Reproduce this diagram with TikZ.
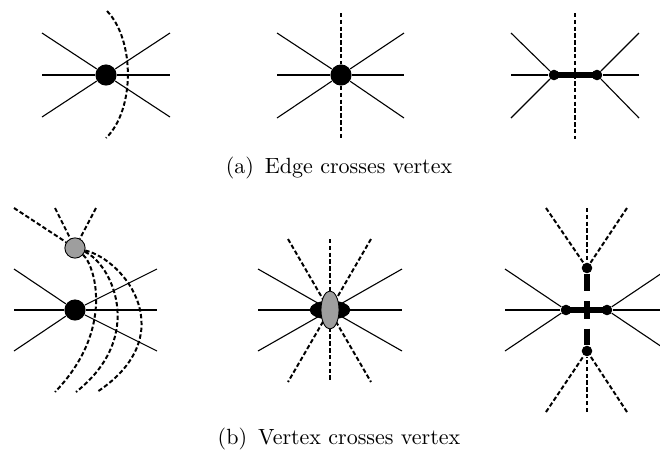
\documentclass[tikz,border=0pt]{standalone}
\usepackage{tikz}
\usetikzlibrary{shapes.geometric}
\definecolor{VertexGray}{RGB}{158,158,158}

\begin{document}
\begin{tikzpicture}[x=0.4545pt,y=-0.4545pt,
    vtx/.style={circle, fill, inner sep=0pt, minimum size=9.6pt},
    smallvtx/.style={circle, fill, inner sep=0pt, minimum size=4.8pt},
    grayvtx/.style={circle, draw, line width=0.4pt, fill=VertexGray, inner sep=0pt, minimum size=9.2pt},
    edge/.style={line width=0.5pt},
    crossing/.style={line width=0.9pt, dash pattern=on 2pt off 1.1pt},
    contracted/.style={line width=2.4pt},
    bigdash/.style={line width=2.3pt, dash pattern=on 8pt off 4.5pt}]
        \useasboundingbox (0,0) rectangle (660,449);
        \clip (0,0) rectangle (660,449);
        % (a) edge crosses vertex
        \node[vtx] (a1) at (106,75) {};
        \coordinate (a1nw) at (42,33); \coordinate (a1w) at (42,75); \coordinate (a1sw) at (42,117);
        \coordinate (a1ne) at (170,33); \coordinate (a1e) at (170,75); \coordinate (a1se) at (170,117);
        \coordinate (a1t) at (107,11); \coordinate (a1b) at (106,138);
        \draw[edge] (a1nw) -- (a1) -- (a1se);
        \draw[edge] (a1w) -- (a1) -- (a1e);
        \draw[edge] (a1sw) -- (a1) -- (a1ne);
        \draw[crossing] (a1t) .. controls (135,40) and (135,110) .. (a1b);

        \node[vtx] (a2) at (341,75) {};
        \coordinate (a2nw) at (277,33); \coordinate (a2w) at (277,75); \coordinate (a2sw) at (277,118);
        \coordinate (a2ne) at (404,33); \coordinate (a2e) at (404,75); \coordinate (a2se) at (404,118);
        \coordinate (a2t) at (341,13); \coordinate (a2b) at (341,139);
        \draw[edge] (a2nw) -- (a2) -- (a2se);
        \draw[edge] (a2w) -- (a2) -- (a2e);
        \draw[edge] (a2sw) -- (a2) -- (a2ne);
        \draw[crossing] (a2t) -- (a2) -- (a2b);

        \node[smallvtx] (a3l) at (554,75) {};
        \node[smallvtx] (a3r) at (597,75) {};
        \coordinate (a3nw) at (511,33); \coordinate (a3w) at (511,75); \coordinate (a3sw) at (511,118);
        \coordinate (a3ne) at (639,33); \coordinate (a3e) at (639,75); \coordinate (a3se) at (639,118);
        \coordinate (a3t) at (575,13); \coordinate (a3b) at (575,139);
        \draw[edge] (a3nw) -- (a3l); \draw[edge] (a3w) -- (a3l); \draw[edge] (a3sw) -- (a3l);
        \draw[edge] (a3ne) -- (a3r); \draw[edge] (a3e) -- (a3r); \draw[edge] (a3se) -- (a3r);
        \draw[crossing] (a3t) -- (a3b);
        \draw[contracted] (a3l.center) -- (a3r.center);

        \node[anchor=base] (capa) at (339,173) {(a)\hspace{0.5em}Edge crosses vertex};

        % (b) vertex crosses vertex
        \node[grayvtx] (b1g) at (75,248) {};
        \node[vtx] (b1v) at (75,310) {};
        \coordinate (b1nw) at (14,269); \coordinate (b1w) at (14,310); \coordinate (b1sw) at (14,351);
        \coordinate (b1ne) at (157,269); \coordinate (b1e) at (157,310); \coordinate (b1se) at (157,351);
        \coordinate (b1t1) at (14,208); \coordinate (b1t2) at (55,208); \coordinate (b1t3) at (96,208);
        \coordinate (b1b1) at (55,392); \coordinate (b1b2) at (76,392); \coordinate (b1b3) at (97,392);
        \draw[edge] (b1nw) -- (b1v) -- (b1ne);
        \draw[edge] (b1w) -- (b1v) -- (b1e);
        \draw[edge] (b1sw) -- (b1v) -- (b1se);
        \draw[crossing] (b1t1) -- (b1g); \draw[crossing] (b1t2) -- (b1g); \draw[crossing] (b1t3) -- (b1g);
        \draw[crossing] (b1g) .. controls (95,265) and (115,330) .. (b1b1);
        \draw[crossing] (b1g) .. controls (110,262) and (148,335) .. (b1b2);
        \draw[crossing] (b1g) .. controls (125,260) and (183,335) .. (b1b3);

        \coordinate (b2) at (330,310);
        \coordinate (b2nw) at (258,269); \coordinate (b2w) at (258,310); \coordinate (b2sw) at (258,351);
        \coordinate (b2ne) at (402,269); \coordinate (b2e) at (402,310); \coordinate (b2se) at (402,351);
        \coordinate (b2t1) at (288,239); \coordinate (b2t2) at (330,239); \coordinate (b2t3) at (371,239);
        \coordinate (b2b1) at (288,382); \coordinate (b2b2) at (330,382); \coordinate (b2b3) at (371,382);
        \draw[edge] (b2nw) -- (b2se); \draw[edge] (b2w) -- (b2e); \draw[edge] (b2sw) -- (b2ne);
        \draw[crossing] (b2t1) -- (b2b3); \draw[crossing] (b2t2) -- (b2b2); \draw[crossing] (b2t3) -- (b2b1);
        \node[ellipse, fill, inner sep=0pt, minimum width=18.6pt, minimum height=8.6pt] (b2v) at (b2) {};
        \node[ellipse, draw, line width=0.4pt, fill=VertexGray, inner sep=0pt, minimum width=8.2pt, minimum height=17.3pt] (b2g) at (b2) {};

        \node[smallvtx] (b3l) at (566,310) {};
        \node[smallvtx] (b3r) at (607,310) {};
        \node[smallvtx] (b3t) at (587,268) {};
        \node[smallvtx] (b3b) at (587,351) {};
        \coordinate (b3nw) at (505,269); \coordinate (b3w) at (505,310); \coordinate (b3sw) at (505,351);
        \coordinate (b3ne) at (668,269); \coordinate (b3e) at (668,310); \coordinate (b3se) at (668,351);
        \coordinate (b3t1) at (546,208); \coordinate (b3t2) at (587,208); \coordinate (b3t3) at (627,208);
        \coordinate (b3b1) at (546,412); \coordinate (b3b2) at (587,412); \coordinate (b3b3) at (627,412);
        \draw[edge] (b3nw) -- (b3l); \draw[edge] (b3w) -- (b3l); \draw[edge] (b3sw) -- (b3l);
        \draw[edge] (b3ne) -- (b3r); \draw[edge] (b3e) -- (b3r); \draw[edge] (b3se) -- (b3r);
        \draw[crossing] (b3t1) -- (b3t); \draw[crossing] (b3t2) -- (b3t); \draw[crossing] (b3t3) -- (b3t);
        \draw[crossing] (b3b1) -- (b3b); \draw[crossing] (b3b2) -- (b3b); \draw[crossing] (b3b3) -- (b3b);
        \draw[contracted] (b3l.center) -- (b3r.center);
        \draw[bigdash] (b3t) -- (b3b);

        \node[anchor=base] (capb) at (339,444) {(b)\hspace{0.5em}Vertex crosses vertex};
      \end{tikzpicture}
\end{document}
